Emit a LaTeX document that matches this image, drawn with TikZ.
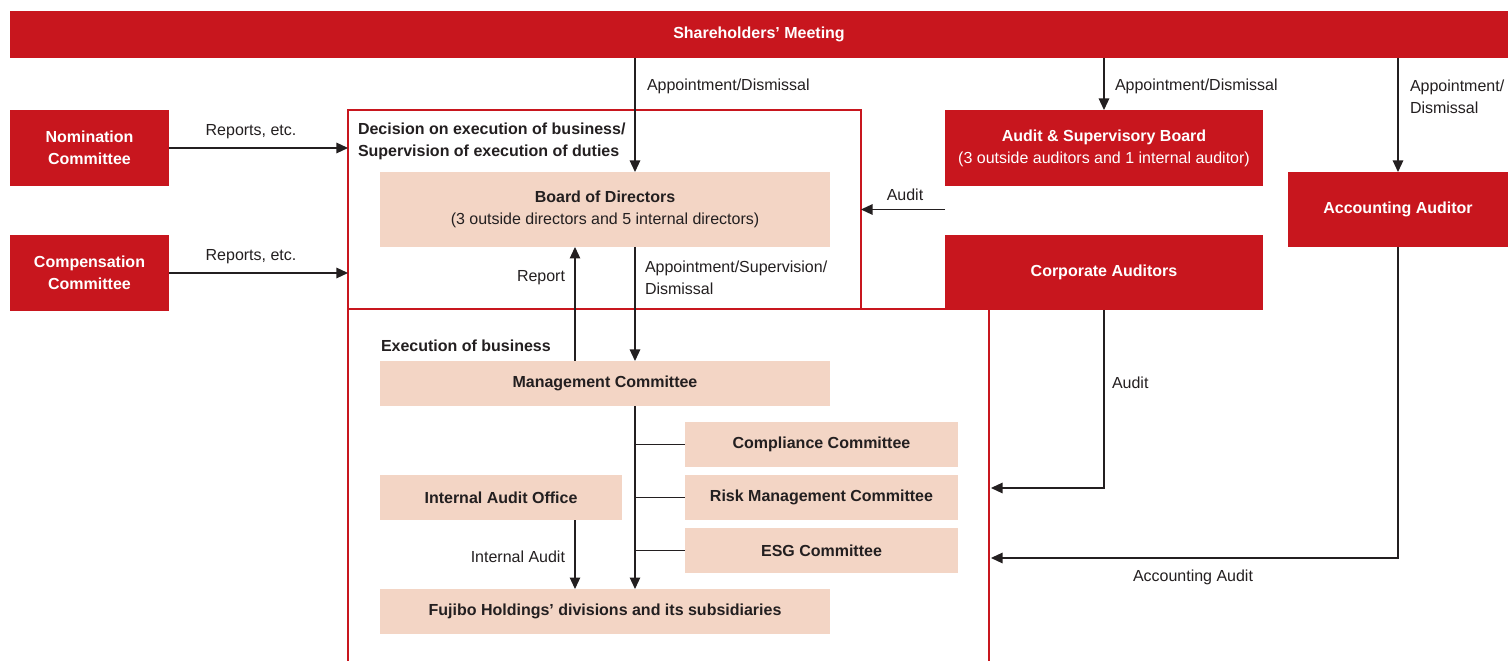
\documentclass[tikz,border=0pt]{standalone}
\usepackage{fontspec}
\setmainfont{Liberation Sans}
\usetikzlibrary{positioning,arrows.meta}
\definecolor{fujired}{RGB}{200,22,30}
\definecolor{peach}{RGB}{243,213,197}
\definecolor{ink}{RGB}{35,31,32}

\begin{document}
\begin{tikzpicture}
[x=0.2mm,y=-0.2mm,
 every node/.style={inner sep=0mm,outer sep=0mm,align=center,text=ink,font=\fontsize{9.1}{12.6}\selectfont},
 org/.style={rectangle,fill=fujired,text=white,font=\fontsize{9.1}{12.6}\selectfont\bfseries},
 body/.style={rectangle,fill=peach,font=\fontsize{9.1}{12.6}\selectfont\bfseries},
 frame/.style={draw=fujired,line width=1.1pt},
 conn/.style={draw=ink,line width=0.7pt,-{Triangle[length=2.3mm,width=2.1mm]}},
 tie/.style={draw=ink,line width=0.7pt},
 head/.style={align=left,font=\fontsize{9.1}{12.6}\selectfont\bfseries},
 lbl/.style={align=left}]
\useasboundingbox (0,0) rectangle (1508,661);
% top bar and outside bodies
\node[org,minimum width=299.6mm,minimum height=9.4mm] (share) at (759,34.5) {Shareholders’ Meeting};
\node[org,minimum width=31.8mm,minimum height=15.2mm] (nom) at (89.5,148) {Nomination\\Committee};
\node[org,minimum width=31.8mm,minimum height=15.2mm] (comp) [on grid,below=25mm of nom] {Compensation\\Committee};
\node[org,minimum width=63.6mm,minimum height=15.2mm] (asb) at (1104,148) {Audit \& Supervisory Board\\{\mdseries (3 outside auditors and 1 internal auditor)}};
\node[org,minimum width=63.6mm,minimum height=15mm] (corp) [on grid,below=24.9mm of asb] {Corporate Auditors};
\node[org,minimum width=44mm,minimum height=15mm] (acc) at (1398,209.5) {Accounting Auditor};
% frames
\node[frame,minimum width=102.6mm,minimum height=39.8mm] (upper) at (604.5,209.5) {};
\draw[frame] (upper.south east) -- (upper.south east -| corp.west);
\draw[frame] (upper.south west) -- (upper.south west |- 0,661);
\draw[frame] (989,309) -- (989,661);
\node[head,anchor=west] (decide) at (358,141) {Decision on execution of business/\\Supervision of execution of duties};
\node[head,anchor=west] (exec) at (381,346) {Execution of business};
% inside bodies
\node[body,minimum width=90mm,minimum height=15mm] (board) at (605,209.5) {Board of Directors\\{\mdseries (3 outside directors and 5 internal directors)}};
\node[body,minimum width=90mm,minimum height=9mm] (mgmt) [on grid,below=34.8mm of board] {Management Committee};
\node[body,minimum width=54.6mm,minimum height=9mm] (comply) [on grid,below right=12.2mm and 43.3mm of mgmt] {Compliance Committee};
\node[body,minimum width=54.6mm,minimum height=9mm] (risk) [on grid,below=10.6mm of comply] {Risk Management Committee};
\node[body,minimum width=54.6mm,minimum height=9mm] (esg) [on grid,below=10.6mm of risk] {ESG Committee};
\node[body,minimum width=48.4mm,minimum height=9mm] (iao) [on grid,left=64.1mm of risk] {Internal Audit Office};
\node[body,minimum width=90mm,minimum height=9mm] (fuji) [on grid,below=45.6mm of mgmt] {Fujibo Holdings’ divisions and its subsidiaries};
% columns and arrow ends
\coordinate (colA) at (635,0);
\coordinate (colB) at (575,0);
\coordinate (auditIn) at (991,488);
\coordinate (accIn) at (991,558);
% connectors
\draw[conn] (share.south -| colA) -- (board.north -| colA);
\draw[conn] (share.south -| asb) -- (asb.north);
\draw[conn] (share.south -| acc) -- (acc.north);
\draw[conn] (nom.east) -- (nom.east -| upper.west);
\draw[conn] (comp.east) -- (comp.east -| upper.west);
\draw[conn] (asb.west |- upper.east) -- (upper.east);
\draw[conn] (board.south -| colA) -- (mgmt.north -| colA);
\draw[conn] (mgmt.north -| colB) -- (board.south -| colB);
\draw[conn] (mgmt.south -| colA) -- (fuji.north -| colA);
\draw[tie] (comply.west -| colA) -- (comply.west);
\draw[tie] (risk.west -| colA) -- (risk.west);
\draw[tie] (esg.west -| colA) -- (esg.west);
\draw[conn] (iao.south -| colB) -- (fuji.north -| colB);
\draw[conn] (corp.south) |- (auditIn);
\draw[conn] (acc.south) |- (accIn);
% connector labels
\node[lbl,anchor=west] (apA) at (647,86) {Appointment/Dismissal};
\node[lbl,anchor=west] (apB) at (1115,86) {Appointment/Dismissal};
\node[lbl,anchor=west] (apC) at (1410,97) {Appointment/\\Dismissal};
\node[lbl] (repA) at (251,132) {Reports, etc.};
\node[lbl] (repB) at (251,257) {Reports, etc.};
\node[lbl] (audA) at (905,195) {Audit};
\node[lbl,anchor=east] (rep) at (565,278) {Report};
\node[lbl,anchor=west] (apsup) at (645,277.5) {Appointment/Supervision/\\Dismissal};
\node[lbl,anchor=east] (intaud) at (565,557) {Internal Audit};
\node[lbl,anchor=west] (audB) at (1112,383) {Audit};
\node[lbl] (accaud) at (1193,577) {Accounting Audit};
\end{tikzpicture}
\end{document}
